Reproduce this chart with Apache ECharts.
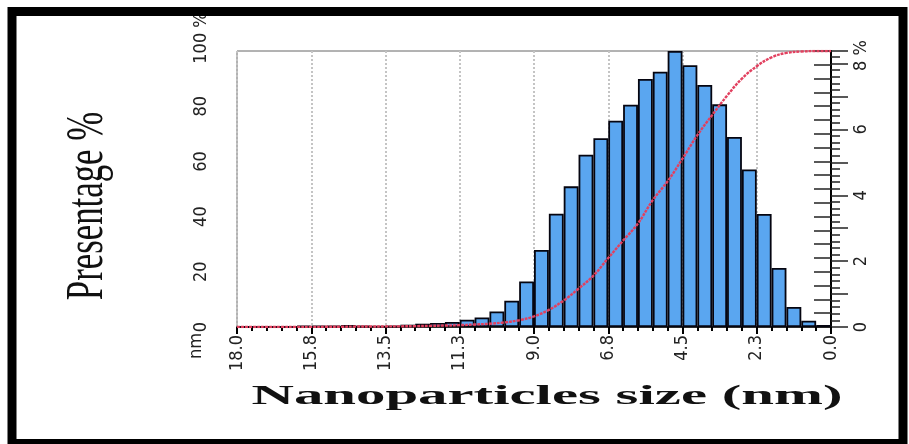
<!DOCTYPE html>
<html><head><meta charset="utf-8">
<script src="https://cdn.jsdelivr.net/npm/echarts@6/dist/echarts.min.js"></script>
<style>html,body{margin:0;padding:0;background:#fff;}#c{width:909px;height:444px;}</style>
</head><body><div id="c"></div>
<script>
// Bin centres (nm) of the histogram, 0.45 nm wide bins
const binCenters = [17.775, 17.325, 16.875, 16.425, 15.975, 15.525, 15.075, 14.625, 14.175, 13.725,
  13.275, 12.825, 12.375, 11.925, 11.475, 11.025, 10.575, 10.125, 9.675, 9.225,
  8.775, 8.325, 7.875, 7.425, 6.975, 6.525, 6.075, 5.625, 5.175, 4.725,
  4.275, 3.825, 3.375, 2.925, 2.475, 2.025, 1.575, 1.125, 0.675, 0.225];
// Bar heights read on the right axis (%)
const barPercent = [0, 0, 0, 0, 0.04, 0.03, 0.03, 0.06, 0.03, 0.02,
  0.03, 0.07, 0.10, 0.12, 0.15, 0.22, 0.29, 0.47, 0.80, 1.38,
  2.34, 3.44, 4.27, 5.23, 5.73, 6.26, 6.75, 7.53, 7.75, 8.38,
  7.95, 7.35, 6.76, 5.77, 4.78, 3.43, 1.79, 0.61, 0.19, 0.06];
// Red cumulative curve, read on the left axis (%)
const curveSizes = [18, 17.55, 17.1, 16.65, 16.2, 15.75, 15.3, 14.85, 14.4, 13.95,
  13.5, 13.05, 12.6, 12.15, 11.7, 11.25, 10.8, 10.35, 9.9, 9.45,
  9.0, 8.55, 8.1, 7.65, 7.2, 6.75, 6.3, 5.85, 5.4, 4.95,
  4.5, 4.05, 3.6, 3.15, 2.7, 2.25, 1.8, 1.35, 0.9, 0.45, 0];
const cumulativePercent = [0, 0, 0, 0, 0, 0.04, 0.07, 0.10, 0.16, 0.19,
  0.21, 0.24, 0.31, 0.41, 0.53, 0.68, 0.90, 1.19, 1.66, 2.46,
  3.84, 6.2, 9.6, 13.9, 18.6, 25.0, 31.3, 37.5, 46.0, 52.8,
  61.0, 69.5, 76.8, 83.8, 90.0, 94.5, 97.7, 99.3, 99.8, 100, 100];
// Tick labels
const xTickLabels = ['18.0', '15.8', '13.5', '11.3', '9.0', '6.8', '4.5', '2.3', '0.0'];
const leftTickLabels = ['0', '20', '40', '60', '80', '100 %'];
const rightTickLabels = ['0', '2', '4', '6', '8 %'];

const narrow = '"Liberation Sans Narrow","DejaVu Sans Condensed","Roboto Condensed","Arial Narrow",sans-serif';
const chart = echarts.init(document.getElementById('c'), null, {renderer: 'canvas'});
chart.setOption({
  animation: false,
  backgroundColor: '#fff',
  grid: {left: 237, right: 78, top: 51, bottom: 117, show: true, borderColor: '#666', borderWidth: 1},
  xAxis: {
    type: 'value', inverse: true, min: 0, max: 18, interval: 2.25,
    axisLine: {lineStyle: {color: '#000', width: 1.5}},
    axisTick: {length: 7, lineStyle: {color: '#000', width: 2}},
    minorTick: {show: true, splitNumber: 5, length: 4, lineStyle: {color: '#000', width: 2}},
    axisLabel: {rotate: 90, margin: 8, fontFamily: narrow, fontSize: 18, color: '#222',
      formatter: v => xTickLabels[Math.round((18 - v) / 2.25)] || ''},
    splitLine: {show: true, lineStyle: {color: '#c4c4c4', type: 'dotted', width: 2}}
  },
  yAxis: [{
    type: 'value', position: 'left', min: 0, max: 100, interval: 20,
    axisLine: {show: true, lineStyle: {color: '#000', width: 2}},
    axisTick: {show: true, length: 17, lineStyle: {color: '#222', width: 1.5}},
    minorTick: {show: true, splitNumber: 4, length: 17, lineStyle: {color: '#222', width: 1.5}},
    axisLabel: {rotate: 90, margin: 27, fontFamily: narrow, fontSize: 18, color: '#222',
      formatter: v => { const i = Math.round(v / 20); const t = leftTickLabels[i] || '';
        return i === 5 ? '{t|' + t + '}' : t; },
      rich: {t: {fontFamily: narrow, fontSize: 18, color: '#222', padding: [0, 0, 0, 26]}}},
    splitLine: {show: false}
  }, {
    type: 'value', position: 'right', min: 0, max: 8.38, interval: 1,
    axisLine: {show: true, lineStyle: {color: '#000', width: 2}},
    axisTick: {show: true, length: 17, lineStyle: {color: '#222', width: 1.5}},
    minorTick: {show: true, splitNumber: 5, length: 9, lineStyle: {color: '#222', width: 1.5}},
    axisLabel: {rotate: 90, margin: 21, fontFamily: narrow, fontSize: 18, color: '#222',
      formatter: v => { if (Math.abs(v - Math.round(v)) > 1e-6 || Math.round(v) % 2) return '';
        const i = Math.round(v) / 2; const t = rightTickLabels[i] || '';
        return i === 4 ? '{t|' + t + '}' : t; },
      rich: {t: {fontFamily: narrow, fontSize: 18, color: '#222', padding: [0, 0, 0, 16]}}},
    splitLine: {show: false}
  }],
  series: [{
    type: 'bar', xAxisIndex: 0, yAxisIndex: 1, barWidth: '100%',
    data: binCenters.map((c, i) => [c, barPercent[i]]),
    itemStyle: {color: '#5aa6f0', borderColor: '#050510', borderWidth: 1.8}
  }, {
    type: 'line', xAxisIndex: 0, yAxisIndex: 0, smooth: 0.4, showSymbol: false, z: 5,
    data: curveSizes.map((s, i) => [s, cumulativePercent[i]]),
    lineStyle: {color: '#e2405f', width: 2.4, type: [3, 1]}
  }],
  graphic: [
    {type: 'rect', silent: true, z: 100, shape: {x: 12, y: 11.5, width: 891, height: 432},
      style: {fill: null, stroke: '#000', lineWidth: 9}},
    {type: 'text', silent: true, x: 88, y: 206, rotation: Math.PI / 2, scaleX: 1.16, scaleY: 1.75,
      style: {text: 'Presentage %', font: '30px "Liberation Serif","Times New Roman",serif', fill: '#111',
        align: 'center', verticalAlign: 'middle'}},
    {type: 'text', silent: true, x: 547, y: 397, scaleX: 2.1, scaleY: 1,
      style: {text: 'Nanoparticles size (nm)', font: 'bold 28px "Liberation Serif","Times New Roman",serif', fill: '#111',
        align: 'center', verticalAlign: 'middle'}},
    {type: 'text', silent: true, x: 196, y: 346, rotation: Math.PI / 2,
      style: {text: 'nm', font: '18px ' + narrow, fill: '#222', align: 'center', verticalAlign: 'middle'}}
  ]
});
</script></body></html>
